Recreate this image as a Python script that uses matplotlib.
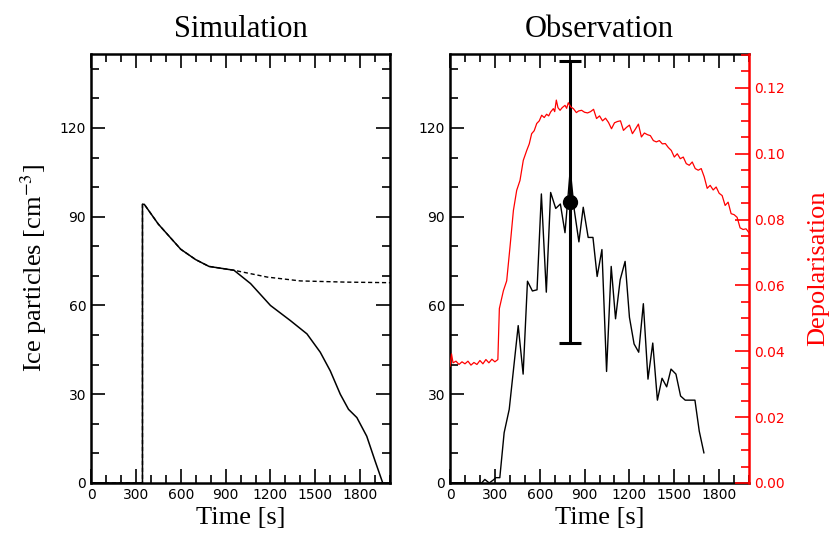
import numpy as np
import matplotlib
matplotlib.use("Agg")
import matplotlib.pyplot as plt
from matplotlib.ticker import MultipleLocator


# =====================================
# Data
# =====================================

# simulation, solid curve
sim_time = [0, 344, 344, 356, 450, 600, 700, 789, 956, 1067, 1200, 1333,
            1444, 1533, 1600, 1667, 1722, 1778, 1844, 1900, 1951]
sim_ice = [0, 0, 94.2, 94.2, 87.5, 79.0, 75.5, 73.2, 71.9, 67.4, 60.0, 54.9,
           50.4, 44.2, 37.9, 30.0, 24.9, 22.1, 15.8, 7.4, 0]

# simulation, dashed curve
sim_dash_time = [0, 344, 344, 356, 450, 600, 700, 789, 956, 1178, 1400,
                 1700, 2000]
sim_dash_ice = [0, 0, 94.2, 94.2, 87.5, 79.0, 75.5, 73.2, 71.9, 69.6, 68.3,
                67.9, 67.7]

# observation, ice particles
obs_time = [0, 211, 233, 262, 289, 307, 333, 362, 396, 456, 489, 518, 551,
            582, 611, 644, 673, 707, 738, 769, 804, 831, 862, 891, 924, 956,
            984, 1016, 1047, 1078, 1107, 1138, 1171, 1200, 1231, 1262, 1293,
            1324, 1356, 1387, 1418, 1449, 1478, 1511, 1542, 1573, 1638, 1667,
            1698]
obs_ice = [0, 0, 1.2, 0, 1.0, 1.8, 1.8, 17.0, 24.9, 53.2, 36.8, 68.2, 64.9,
           65.3, 97.7, 64.5, 98.2, 92.8, 94.3, 84.6, 105.8, 92.3, 81.5, 93.2,
           83.0, 83.0, 69.8, 78.9, 37.7, 73.2, 55.5, 68.7, 74.9, 56.0, 47.0,
           44.2, 60.6, 35.1, 47.3, 28.0, 35.4, 32.5, 38.5, 36.8, 29.4, 28.0,
           28.0, 17.5, 10.2]

# observation, single point with error bar
err_time = [800]
err_ice = [95.0]
err_low = [47.7]
err_high = [47.6]

# observation, depolarisation
depol_time = [0, 10, 20, 40, 60, 80, 100, 120, 140, 160, 180, 200, 220, 240,
              260, 280, 300, 320, 330, 357, 379, 401, 424, 446, 468, 490,
              513, 530, 546, 563, 580, 597, 613, 630, 646, 660, 673, 691,
              700, 711, 722, 736, 750, 769, 780, 791, 808, 825, 845, 860,
              880, 900, 920, 940, 960, 980, 1000, 1020, 1040, 1060, 1080,
              1100, 1120, 1140, 1160, 1180, 1200, 1220, 1240, 1260, 1280,
              1300, 1320, 1340, 1360, 1380, 1400, 1420, 1440, 1460, 1480,
              1500, 1520, 1540, 1560, 1580, 1600, 1620, 1640, 1660, 1680,
              1700, 1720, 1740, 1760, 1780, 1800, 1820, 1840, 1860, 1880,
              1900, 1920, 1940, 1960, 1980, 2000]
depol = [0.0355, 0.0392, 0.0365, 0.0370, 0.0360, 0.0368, 0.0362, 0.0370,
         0.0358, 0.0366, 0.0360, 0.0372, 0.0362, 0.0375, 0.0365, 0.0376,
         0.0368, 0.0375, 0.0530, 0.0584, 0.0614, 0.0716, 0.0828, 0.0889,
         0.0919, 0.0980, 0.1010, 0.1030, 0.1061, 0.1070, 0.1092, 0.1100,
         0.1117, 0.1110, 0.1120, 0.1115, 0.1127, 0.1137, 0.1128, 0.1163,
         0.1140, 0.1132, 0.1140, 0.1147, 0.1138, 0.1155, 0.1142, 0.1137,
         0.1125, 0.1130, 0.1132, 0.1126, 0.1124, 0.1128, 0.1135, 0.1107,
         0.1115, 0.1100, 0.1108, 0.1095, 0.1076, 0.1094, 0.1098, 0.1100,
         0.1071, 0.1080, 0.1087, 0.1061, 0.1075, 0.1090, 0.1051, 0.1063,
         0.1058, 0.1055, 0.1040, 0.1036, 0.1040, 0.1030, 0.1031, 0.1019,
         0.1010, 0.0990, 0.1000, 0.0985, 0.0990, 0.0970, 0.0965, 0.0975,
         0.0955, 0.0950, 0.0955, 0.0930, 0.0895, 0.0904, 0.0890, 0.0899,
         0.0880, 0.0873, 0.0843, 0.0853, 0.0818, 0.0815, 0.0807, 0.0775,
         0.0770, 0.0772, 0.0760]

time_ticks = [0, 300, 600, 900, 1200, 1500, 1800]
ice_ticks = [0, 30, 60, 90, 120]
depol_ticks = [0.00, 0.02, 0.04, 0.06, 0.08, 0.10, 0.12]


# =====================================
# Style
# =====================================

plt.rcParams['mathtext.fontset'] = 'stix'
SERIF = 'Liberation Serif'
TICK_FONT = 'DejaVu Sans'


def style_axis(ax, color='k', right=True):
    ax.tick_params(which='both', direction='in', top=True, right=right,
                   width=1.2, labelsize=10, colors=color)
    ax.tick_params(which='major', length=10)
    ax.tick_params(which='minor', length=5.5)
    for spine in ax.spines.values():
        spine.set_linewidth(1.8)
    for lab in ax.get_xticklabels() + ax.get_yticklabels():
        lab.set_fontfamily(TICK_FONT)


fig = plt.figure(figsize=(8.36, 5.46), dpi=100)

ax1 = fig.add_axes([0.1089, 0.1154, 0.3577, 0.7857])
ax2 = fig.add_axes([0.5383, 0.1154, 0.3577, 0.7857])


# =====================================
# Simulation panel
# =====================================

ax1.plot(sim_dash_time, sim_dash_ice, color='k', lw=1.0,
         linestyle=(0, (3, 2)))
ax1.plot(sim_time, sim_ice, color='k', lw=1.1)

ax1.set_xlim(0, 2000)
ax1.set_ylim(0, 145)
ax1.set_xticks(time_ticks)
ax1.set_yticks(ice_ticks)
ax1.xaxis.set_minor_locator(MultipleLocator(100))
ax1.yaxis.set_minor_locator(MultipleLocator(10))
style_axis(ax1)

ax1.set_title("Simulation", fontfamily=SERIF, fontsize=22, pad=12)
ax1.set_xlabel("Time [s]", fontfamily=SERIF, fontsize=19)
ax1.set_ylabel("Ice particles [cm$^{-3}$]", fontfamily=SERIF, fontsize=19,
               labelpad=8)


# =====================================
# Observation panel
# =====================================

ax2.plot(obs_time, obs_ice, color='k', lw=1.0)
ax2.errorbar(err_time, err_ice, yerr=[err_low, err_high], fmt='o',
             color='k', ms=10, elinewidth=2.2, capsize=8, capthick=2.2)

ax2.set_xlim(0, 2000)
ax2.set_ylim(0, 145)
ax2.set_xticks(time_ticks)
ax2.set_yticks(ice_ticks)
ax2.xaxis.set_minor_locator(MultipleLocator(100))
ax2.yaxis.set_minor_locator(MultipleLocator(10))
style_axis(ax2, right=False)
ax2.spines['right'].set_visible(False)

ax2.set_title("Observation", fontfamily=SERIF, fontsize=22, pad=12)
ax2.set_xlabel("Time [s]", fontfamily=SERIF, fontsize=19)

# depolarisation on the right axis
ax3 = ax2.twinx()
ax3.plot(depol_time, depol, color='red', lw=0.9)
ax3.set_ylim(0, 0.1303)
ax3.set_yticks(depol_ticks)
ax3.set_yticklabels([f"{v:.2f}" for v in depol_ticks])
ax3.yaxis.set_minor_locator(MultipleLocator(0.005))
ax3.tick_params(which='both', direction='in', colors='red', width=1.2,
                labelsize=10)
ax3.tick_params(which='major', length=10)
ax3.tick_params(which='minor', length=5.5)
for lab in ax3.get_yticklabels():
    lab.set_fontfamily(TICK_FONT)
for side in ['top', 'bottom', 'left']:
    ax3.spines[side].set_visible(False)
ax3.spines['right'].set_color('red')
ax3.spines['right'].set_linewidth(1.8)
ax3.set_ylabel("Depolarisation", color='red', fontfamily=SERIF,
               fontsize=19, labelpad=16)


# =====================================
# Save
# =====================================

fig.savefig("out.png", dpi=100)
